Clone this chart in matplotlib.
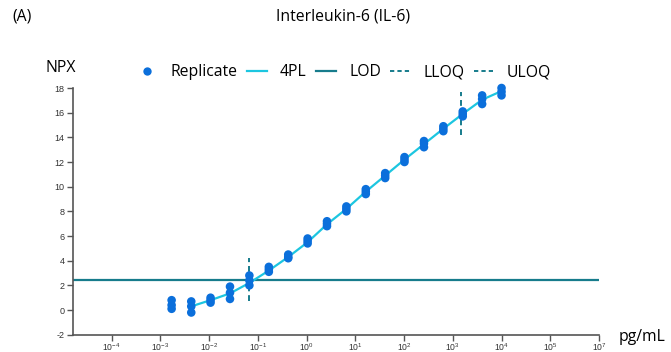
import matplotlib
matplotlib.use("Agg")
import matplotlib.pyplot as plt
from matplotlib.ticker import NullLocator, FixedLocator
from matplotlib.lines import Line2D

plt.rcParams['font.family'] = ['Open Sans', 'DejaVu Sans']
plt.rcParams['mathtext.fontset'] = 'custom'
plt.rcParams['mathtext.rm'] = 'Liberation Sans'
plt.rcParams['mathtext.it'] = 'Liberation Sans'

# ---- data ----
conc = [0.0017, 0.0043, 0.0107, 0.0268, 0.067, 0.168, 0.42, 1.05, 2.62,
        6.55, 16.4, 41, 102, 256, 640, 1600, 4000, 10000]
rep1 = [0.8, 0.7, 1.0, 1.9, 2.8, 3.5, 4.5, 5.8, 7.2, 8.4, 9.8, 11.1, 12.4,
        13.7, 14.9, 16.1, 17.4, 18.0]
rep2 = [0.4, 0.3, 0.8, 1.4, 2.4, 3.3, 4.3, 5.6, 7.0, 8.2, 9.6, 10.9, 12.2,
        13.5, 14.7, 15.9, 17.1, 17.7]
rep3 = [0.1, -0.2, 0.6, 0.9, 2.0, 3.1, 4.2, 5.4, 6.8, 8.0, 9.4, 10.7, 12.0,
        13.2, 14.5, 15.7, 16.7, 17.4]
fit_conc = conc[1:]
fit_npx = [0.3, 0.8, 1.35, 2.2, 3.2, 4.3, 5.5, 6.95, 8.2, 9.6, 10.9, 12.2,
           13.45, 14.7, 15.9, 17.05, 17.75]
lod = 2.4
lloq = 0.065
lloq_span = [0.7, 4.2]
uloq = 1500
uloq_span = [14.2, 17.7]
xtick_pos = [1e-4, 1e-3, 1e-2, 1e-1, 1e0, 1e1, 1e2, 1e3, 1e4, 1e5, 1e6]
xtick_lab = [r'$10^{-4}$', r'$10^{-3}$', r'$10^{-2}$', r'$10^{-1}$', r'$10^{0}$',
             r'$10^{1}$', r'$10^{2}$', r'$10^{3}$', r'$10^{4}$', r'$10^{5}$',
             r'$10^{7}$']
yticks = [-2, 0, 2, 4, 6, 8, 10, 12, 14, 16, 18]

c_pt = '#0B6FDB'
c_fit = '#1CC6E0'
c_lod = '#177C8C'
c_q = '#177C8C'
c_ax = '#555555'

fig = plt.figure(figsize=(6.71, 3.52), dpi=100)
ax = fig.add_axes([0.1083, 0.0491, 0.7844, 0.7009])

ax.axhline(lod, color=c_lod, lw=1.6, zorder=1)
ax.plot(fit_conc, fit_npx, color=c_fit, lw=1.6, zorder=2)
ax.vlines([lloq], [lloq_span[0]], [lloq_span[1]], colors=c_q, lw=1.4,
          linestyles=(0, (3, 2)), zorder=2)
ax.vlines([uloq], [uloq_span[0]], [uloq_span[1]], colors=c_q, lw=1.4,
          linestyles=(0, (3, 2)), zorder=2)
for r in (rep1, rep2, rep3):
    ax.scatter(conc, r, s=38, color=c_pt, edgecolors='none', zorder=3,
               clip_on=False)

ax.set_xscale('log')
ax.set_xlim(10 ** -4.8, 1e6)
ax.set_ylim(-2, 18)
ax.xaxis.set_major_locator(FixedLocator(xtick_pos))
ax.xaxis.set_minor_locator(NullLocator())
ax.set_xticklabels(xtick_lab)
ax.set_yticks(yticks)
ax.set_yticklabels([str(v) for v in yticks], family='Liberation Sans')
ax.tick_params(axis='y', labelsize=6.5, colors='#333333', length=4,
               width=1, pad=2)
ax.tick_params(axis='x', labelsize=6.2, colors='#333333', length=4,
               width=1, pad=0.6)
ax.tick_params(axis='both', color=c_ax)
for s in ('top', 'right'):
    ax.spines[s].set_visible(False)
for s in ('left', 'bottom'):
    ax.spines[s].set_color(c_ax)
    ax.spines[s].set_linewidth(1.2)

fs = 11.3
fig.text(0.018, 0.952, '(A)', fontsize=fs, ha='left', va='center')
fig.text(0.511, 0.952, 'Interleukin-6 (IL-6)', fontsize=fs, ha='center',
         va='center')
fig.text(0.090, 0.807, 'NPX', fontsize=fs, ha='center', va='center')
fig.text(0.922, 0.043, 'pg/mL', fontsize=fs, ha='left', va='center')

handles = [
    Line2D([], [], ls='none', marker='o', ms=6, color=c_pt, mec='none'),
    Line2D([], [], color=c_fit, lw=1.6),
    Line2D([], [], color=c_lod, lw=1.6),
    Line2D([], [], color=c_q, lw=1.4, ls=(0, (2.2, 1.6))),
    Line2D([], [], color=c_q, lw=1.4, ls=(0, (2.2, 1.6))),
]
labels = ['Replicate', '4PL', 'LOD', 'LLOQ', 'ULOQ']
fig.legend(handles, labels, loc='center', bbox_to_anchor=(0.513, 0.795),
           ncol=5, frameon=False, fontsize=fs, handlelength=1.25,
           handletextpad=0.85, columnspacing=0.6, borderaxespad=0)

fig.savefig('out.png', dpi=100)
